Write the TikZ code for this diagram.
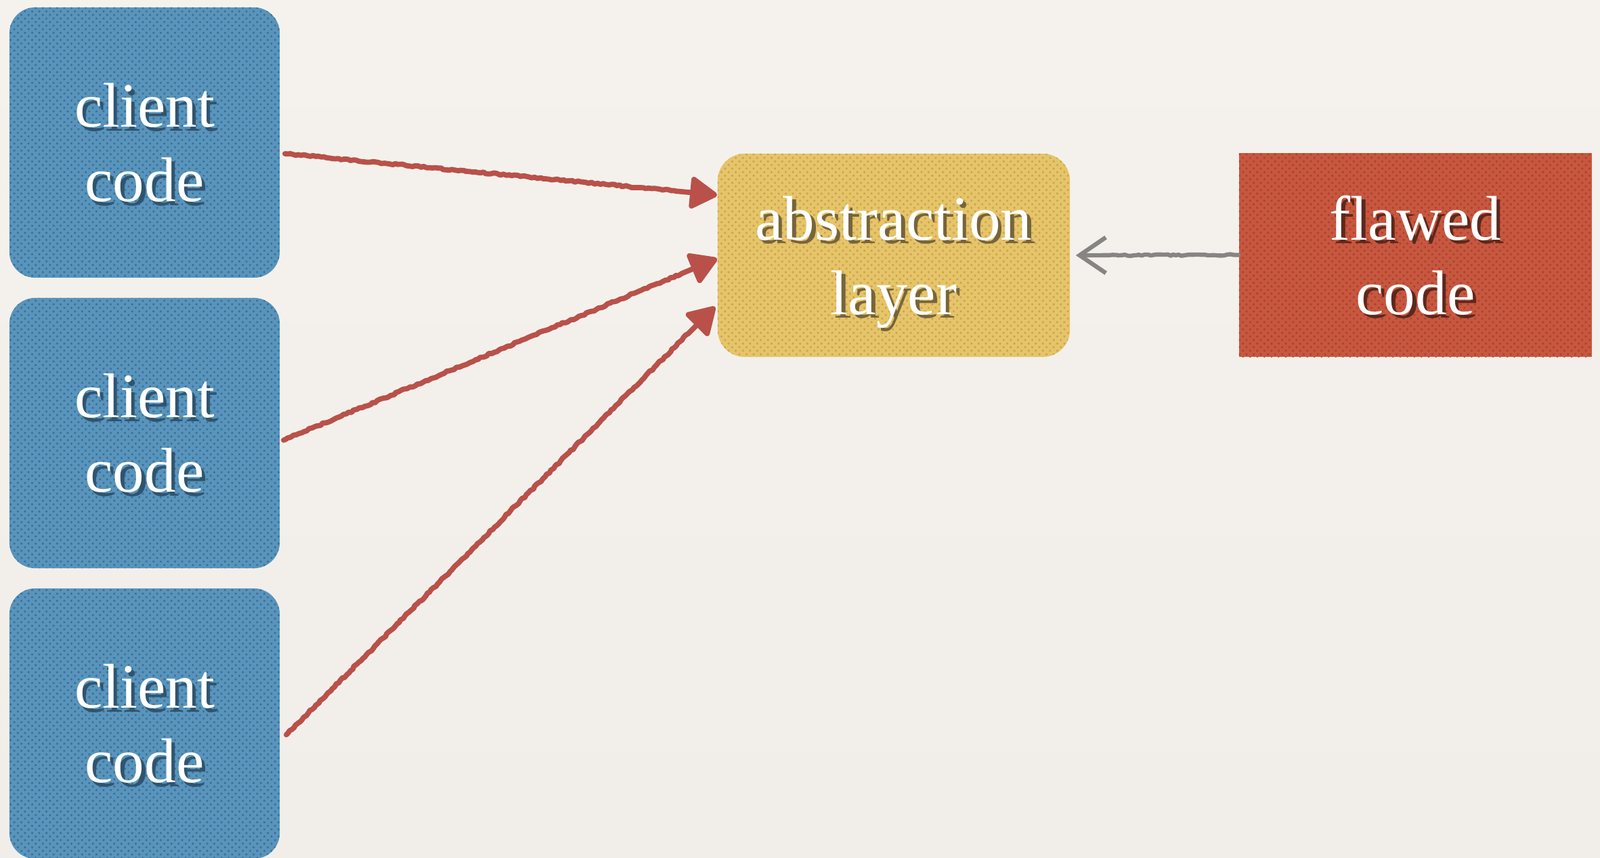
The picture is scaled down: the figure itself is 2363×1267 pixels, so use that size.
\documentclass[tikz,border=0pt]{standalone}
\usepackage{fontspec}
\setmainfont{Liberation Serif}
\usetikzlibrary{arrows.meta,decorations.pathmorphing,patterns}
\definecolor{bgtop}{HTML}{F5F2ED}
\definecolor{bgmid}{HTML}{E6E2DC}
\definecolor{bgbot}{HTML}{F1EEE9}
\definecolor{cblue}{HTML}{5894BB}
\definecolor{cbluedot}{HTML}{3C6F95}
\definecolor{shblue}{HTML}{2F5470}
\definecolor{cyel}{HTML}{E6C46A}
\definecolor{cyeldot}{HTML}{C9A44C}
\definecolor{shyel}{HTML}{76653A}
\definecolor{cred}{HTML}{C7573F}
\definecolor{creddot}{HTML}{A8422F}
\definecolor{shred}{HTML}{5E271C}
\definecolor{arrred}{HTML}{B9514A}
\definecolor{arrgray}{HTML}{878583}
\newcommand{\shtxt}[2]{\leavevmode\rlap{\kern1.5pt\raisebox{-1.5pt}{\textcolor{#1}{#2}}}#2}
\begin{document}
\begin{tikzpicture}[x=0.01cm,y=-0.01cm,
  box/.style={draw=none, inner sep=0pt, align=center, text=white, text depth=0pt,
    font=\fontsize{26.5}{31.3}\selectfont},
  client/.style={box, rounded corners=0.38cm, fill=cblue,
    minimum width=3.99cm, minimum height=3.99cm,
    postaction={pattern=crosshatch dots, pattern color=cbluedot}},
  abstr/.style={box, rounded corners=0.4cm, fill=cyel,
    minimum width=5.2cm, minimum height=3cm,
    postaction={pattern=crosshatch dots, pattern color=cyeldot}},
  flawed/.style={box, fill=cred,
    minimum width=5.21cm, minimum height=3.01cm,
    postaction={pattern=crosshatch dots, pattern color=creddot}},
  redarrow/.style={draw=arrred, line width=2.2pt, line cap=round, line join=round,
    decorate, decoration={random steps, segment length=1.2pt, amplitude=0.35pt,
      pre length=1pt, post length=16pt},
    -{Triangle[length=12.5pt,width=14.5pt,round]}},
  grayarrow/.style={draw=arrgray, line width=1.8pt, line cap=round, line join=round,
    decorate, decoration={random steps, segment length=1.2pt, amplitude=0.3pt,
      pre length=1pt, post length=14pt},
    -{Straight Barb[length=11pt,width=15pt]}}
]
\useasboundingbox (0,0) rectangle (2363,1267);
\shade[top color=bgtop, middle color=bgmid, bottom color=bgbot] (0,0) rectangle (2363,1267);

\node[client] (c1) at (213.5,210.5) {\shtxt{shblue}{client}\\\shtxt{shblue}{code}};
\node[client] (c2) at (213.5,639.5) {\shtxt{shblue}{client}\\\shtxt{shblue}{code}};
\node[client] (c3) at (213.5,1068.5) {\shtxt{shblue}{client}\\\shtxt{shblue}{code}};
\node[abstr] (ab) at (1320,377) {\shtxt{shyel}{abstraction}\\\shtxt{shyel}{layer}};
\node[flawed] (fl) at (2090.5,376.5) {\shtxt{shred}{flawed}\\\shtxt{shred}{code}};

\draw[redarrow] ([shift={(7,16.5)}]c1.east) -- ([shift={(0,-89)}]ab.west);
\draw[redarrow] ([shift={(5,10.5)}]c2.east) -- ([shift={(0,5)}]ab.west);
\draw[redarrow] ([shift={(9,16.5)}]c3.east) -- ([shift={(-3,76)}]ab.west);
\draw[grayarrow] (fl.west) -- ([shift={(8,0)}]ab.east);
\end{tikzpicture}
\end{document}
